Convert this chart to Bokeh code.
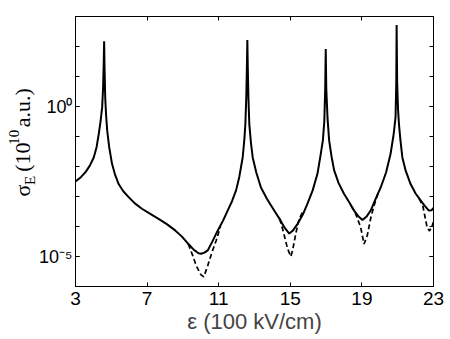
import json
from math import pi
from bokeh.plotting import figure
from bokeh.layouts import row
from bokeh.models import (FixedTicker, LinearAxis, LogAxis, CustomJSTickFormatter, Range1d)
from bokeh.embed import file_html
from bokeh.resources import INLINE

# ---- data (x in 100 kV/cm, sigma_E in 1e10 a.u.) ----
solid_x = [3.0, 3.3, 3.56, 3.8, 4.02, 4.18, 4.30, 4.40, 4.49, 4.54, 4.575, 4.60, 4.625, 4.66, 4.71, 4.77,
           4.88, 5.04, 5.2, 5.41, 5.67, 5.97, 6.3, 6.71, 7.2, 7.64, 8.1, 8.57, 8.95, 9.31, 9.6, 9.87,
           10.02, 10.2, 10.39, 10.65, 10.95, 11.25, 11.5, 11.75, 11.97, 12.15, 12.34, 12.44, 12.49,
           12.54, 12.575, 12.60, 12.625, 12.66, 12.71, 12.8, 12.9, 13.1, 13.36, 13.7, 14.1, 14.4,
           14.66, 14.94, 15.15, 15.41, 15.7, 15.96, 16.25, 16.52, 16.7, 16.82, 16.9, 16.95, 16.98,
           17.01, 17.08, 17.17, 17.3, 17.45, 17.7, 18.0, 18.3, 18.56, 18.8, 19.03, 19.25, 19.49,
           19.75, 20.05, 20.35, 20.6, 20.78, 20.88, 20.92, 20.94, 20.97, 21.02, 21.07, 21.15, 21.26,
           21.45, 21.72, 22.0, 22.28, 22.5, 22.74, 22.9, 23.0]
solid_y = [3.2e-3, 4.4e-3, 6.5e-3, 1.07e-2, 2.0e-2, 4.5e-2, 1.23e-1, 3.2e-1, 9.5e-1, 4.0e0, 2.5e1, 1.5e2,
           1.6e1, 2.0e0, 5.0e-1, 1.6e-1,
           4.5e-2, 1.23e-2, 5.6e-3, 2.6e-3, 1.5e-3, 9.5e-4, 6.0e-4, 3.9e-4, 2.6e-4, 1.8e-4, 1.2e-4,
           7.4e-5, 4.6e-5, 2.6e-5, 1.7e-5, 1.29e-5,
           1.23e-5, 1.35e-5, 1.6e-5, 3.2e-5, 7.4e-5, 1.6e-4, 3.4e-4, 7.1e-4, 1.6e-3, 4.5e-3, 2.0e-2,
           8.9e-2, 2.6e-1,
           2.0e0, 2.0e1, 1.66e2, 2.0e1, 2.0e0, 2.6e-1, 6.3e-2, 2.0e-2, 6.3e-3, 2.0e-3, 8.3e-4, 3.4e-4,
           1.8e-4,
           9.5e-5, 5.8e-5, 7.4e-5, 1.23e-4, 2.5e-4, 5.8e-4, 1.6e-3, 5.8e-3, 2.6e-2, 7.4e-2, 3.2e-1,
           4.0e0, 8.3e1,
           4.0e0, 4.0e-1, 7.4e-2, 2.2e-2, 7.4e-3, 2.8e-3, 1.23e-3, 6.3e-4, 3.4e-4, 2.2e-4, 1.66e-4,
           2.1e-4, 3.4e-4,
           7.9e-4, 2.0e-3, 6.3e-3, 2.6e-2, 1.26e-1, 4.4e-1, 6.3e0, 5.2e2, 6.3e0, 7.9e-1, 2.6e-1,
           7.9e-2, 2.0e-2,
           7.1e-3, 2.6e-3, 1.26e-3, 7.4e-4, 5.0e-4, 3.4e-4, 3.5e-4, 4.2e-4]

dashed_x = [9.3, 9.55, 9.74, 10.0, 10.17, 10.39, 10.6, 10.86, 11.1, float("nan"),
            14.4, 14.57, 14.85, 15.03, 15.13, 15.3, 15.5, 15.7, float("nan"),
            18.4, 18.6, 18.93, 19.12, 19.3, 19.5, 19.68, 19.9, float("nan"),
            22.2, 22.4, 22.65, 22.78, 22.93, 23.0]
dashed_y = [2.6e-5, 1.07e-5, 5.0e-6, 2.5e-6, 2.1e-6, 5.0e-6, 1.26e-5, 3.4e-5, 1.0e-4, float("nan"),
            1.8e-4, 8.3e-5, 1.8e-5, 1.0e-5, 1.6e-5, 5.6e-5, 1.8e-4, 3.2e-4, float("nan"),
            4.8e-4, 3.2e-4, 9.5e-5, 2.6e-5, 5.0e-5, 2.0e-4, 5.0e-4, 1.26e-3, float("nan"),
            8.5e-4, 5.0e-4, 8.9e-5, 7.1e-5, 1.12e-4, 1.4e-4]

x_ticks = [3, 7, 11, 15, 19, 23]
y_decades = [1e-6, 1e-5, 1e-4, 1e-3, 1e-2, 1e-1, 1e0, 1e1, 1e2, 1e3]
y_major = [1e-5, 1e0]
y_major_labels = ["10\u207b\u2075", "10\u2070"]
x_label = "\u03b5 (100 kV/cm)"
ylab_main = ["\u03c3", "(10", "a.u.)"]      # normal-size pieces of the y label
ylab_small = ["E", "10"]                   # subscript E, superscript 10

FONT = "Liberation Sans"
LAB_W = 36        # width of the strip that holds the rotated y label

# ---------------- main plot ----------------
p = figure(width=450 - LAB_W, height=339, output_backend="svg", toolbar_location=None,
           y_axis_type="log", x_range=Range1d(3, 23), y_range=Range1d(1e-6, 1e3),
           min_border_left=74 - LAB_W, min_border_right=17, min_border_top=16, min_border_bottom=53)
p.background_fill_color = "white"
p.border_fill_color = "white"
p.outline_line_color = "black"
p.outline_line_width = 1
p.xgrid.visible = False
p.ygrid.visible = False

p.line(dashed_x, dashed_y, line_color="black", line_width=1.7, line_dash="5 3")
p.line(solid_x, solid_y, line_color="black", line_width=2)

fmt_code = ("const vals = %s; const labs = %s;"
            "for (let i = 0; i < vals.length; i++) {"
            "  if (Math.abs(Math.log10(tick) - Math.log10(vals[i])) < 1e-6) return labs[i]; }"
            "return '';") % (json.dumps(y_major), json.dumps(y_major_labels))

def style_axis(ax, size):
    ax.axis_line_color = "black"
    ax.major_tick_line_color = "black"
    ax.minor_tick_line_color = "black"
    ax.major_tick_in = 4
    ax.major_tick_out = 0
    ax.minor_tick_in = 4
    ax.minor_tick_out = 0
    ax.major_label_text_font = FONT
    ax.major_label_text_font_size = size
    ax.major_label_text_color = "black"

xax = p.xaxis[0]
xax.ticker = FixedTicker(ticks=x_ticks)
style_axis(xax, "19px")
xax.major_label_standoff = 5
xax.axis_label = x_label
xax.axis_label_text_font = FONT
xax.axis_label_text_font_size = "22px"
xax.axis_label_text_font_style = "normal"
xax.axis_label_standoff = 1

yax = p.yaxis[0]
yax.ticker = FixedTicker(ticks=y_major, minor_ticks=y_decades)
yax.formatter = CustomJSTickFormatter(code=fmt_code)
style_axis(yax, "18px")
yax.major_label_standoff = 3

top = LinearAxis(ticker=FixedTicker(ticks=x_ticks))
style_axis(top, "1px")
top.major_label_text_color = None
top.major_label_standoff = 0
p.add_layout(top, "above")

right = LogAxis(ticker=FixedTicker(ticks=y_major, minor_ticks=y_decades))
style_axis(right, "1px")
right.major_label_text_color = None
right.major_label_standoff = 0
p.add_layout(right, "right")

# ---------------- strip with the rotated y-axis label ----------------
# its frame spans the whole strip; coordinates are page pixels (y measured upward)
lab = figure(width=LAB_W, height=339, output_backend="svg", toolbar_location=None,
             x_range=Range1d(0, LAB_W), y_range=Range1d(0, 339),
             min_border=0, x_axis_location=None, y_axis_location=None)
lab.outline_line_color = None
lab.grid.visible = False
lab.background_fill_color = "white"
lab.border_fill_color = "white"

main_base = 22.0
lab.text(x=[main_base] * 3, y=[113.0, 144.0, 200.0], text=ylab_main, angle=pi / 2,
         text_font=FONT, text_font_size="22px", text_color="black",
         text_align="left", text_baseline="alphabetic")
lab.text(x=[main_base + 7, main_base - 9], y=[127.5, 178.0], text=ylab_small, angle=pi / 2,
         text_font=FONT, text_font_size="15px", text_color="black",
         text_align="left", text_baseline="alphabetic")

layout = row(lab, p, spacing=0)
open("out.html", "w").write(file_html(layout, INLINE))
